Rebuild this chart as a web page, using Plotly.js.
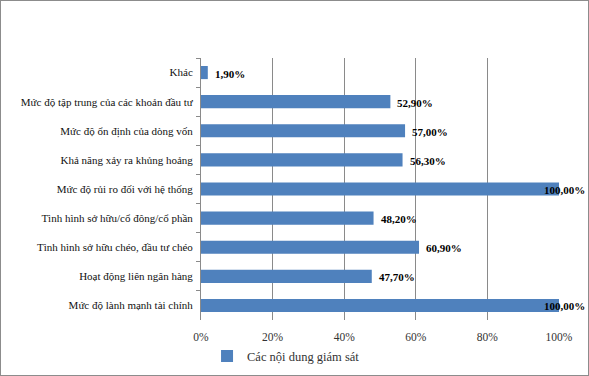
<!DOCTYPE html>
<html><head><meta charset="utf-8">
<script src="https://cdn.plot.ly/plotly-3.0.1.min.js"></script>
<style>html,body{margin:0;padding:0;background:#fff}#c{width:589px;height:376px;box-sizing:border-box;border:1px solid #8c8c8c}</style>
</head><body><div id="c"></div>
<script>
const categories = [
  "Khác",
  "Mức độ tập trung của các khoản đầu tư",
  "Mức độ ổn định của dòng vốn",
  "Khả năng xảy ra khủng hoảng",
  "Mức độ rủi ro đối với hệ thống",
  "Tình hình sở hữu/cổ đông/cổ phần",
  "Tình hình sở hữu chéo, đầu tư chéo",
  "Hoạt động liên ngân hàng",
  "Mức độ lành mạnh tài chính"
];
const values = [1.9, 52.9, 57.0, 56.3, 100, 48.2, 60.9, 47.7, 100];
const seriesName = "Các nội dung giám sát";
const tickVals = [0, 20, 40, 60, 80, 100];
const tickText = ["0%", "20%", "40%", "60%", "80%", "100%"];

const fmt = v => v.toFixed(2).replace('.', ',') + '%';
const serif = "Liberation Serif";

const trace = {
  type: 'bar', orientation: 'h', y: categories, x: values, name: seriesName,
  marker: {color: '#4f81bd', line: {color: '#4a7ebb', width: 0}},
  width: 0.45, showlegend: true, hoverinfo: 'none'
};
const annotations = values.map((v, i) => ({
  x: v, y: categories[i], xref: 'x', yref: 'y', text: fmt(v), showarrow: false,
  xanchor: 'left', xshift: v >= 100 ? -17 : 5, yshift: -1,
  font: {family: serif, size: 11, color: '#000', weight: 'bold'}
}));
const layout = {
  width: 587, height: 374,
  margin: {l: 200, r: 29, t: 57, b: 55},
  paper_bgcolor: '#fff', plot_bgcolor: '#fff',
  font: {family: serif, size: 11, color: '#222'},
  xaxis: {range: [0, 100], tickvals: tickVals, ticktext: tickText, showgrid: true,
    gridcolor: '#8a8a8a', gridwidth: 1, zeroline: false, showline: false,
    ticks: 'outside', ticklen: 6, tickcolor: 'rgba(0,0,0,0)',
    tickfont: {family: serif, size: 11.5, color: '#333'}, fixedrange: true},
  yaxis: {type: 'category', autorange: 'reversed', showline: true, linecolor: '#8a8a8a',
    linewidth: 1, ticks: 'outside', tickson: 'boundaries', ticklen: 4, tickcolor: '#8a8a8a',
    showgrid: false, ticklabelstandoff: 5,
    tickfont: {family: serif, size: 11, color: '#111'}, fixedrange: true},
  bargap: 0.55,
  showlegend: true,
  legend: {orientation: 'h', xref: 'container', yref: 'container', x: 0.351, xanchor: 'left',
    y: 0.05, yanchor: 'middle', itemwidth: 30,
    font: {family: serif, size: 12.5, color: '#333'}},
  annotations: annotations
};
Plotly.newPlot('c', [trace], layout, {displayModeBar: false, staticPlot: true});
</script></body></html>
